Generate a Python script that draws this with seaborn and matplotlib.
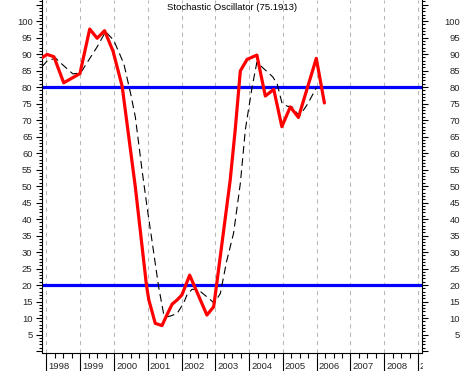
import matplotlib
matplotlib.use("Agg")
import matplotlib.pyplot as plt
import matplotlib.ticker as mticker
from matplotlib.transforms import Bbox, ScaledTranslation
import seaborn as sns
import pandas as pd
import numpy as np

# ---- data ----
k_dates = [1997.867, 1998.02, 1998.22, 1998.51, 1998.99, 1999.28, 1999.50, 1999.72,
           1999.97, 2000.24, 2000.63, 2000.96, 2001.03, 2001.10, 2001.22, 2001.42,
           2001.54, 2001.72, 2001.87, 2002.01, 2002.24, 2002.75, 2002.95, 2003.03,
           2003.44, 2003.59, 2003.74, 2003.94, 2004.23, 2004.48, 2004.73, 2004.97,
           2005.22, 2005.46, 2005.99, 2006.23]
k_values = [88.9, 89.9, 89.2, 81.3, 84.1, 97.6, 94.8, 97.1,
            90.9, 80.3, 49.8, 20.0, 15.5, 12.9, 8.4, 7.7,
            10.4, 14.2, 15.5, 17.0, 23.0, 10.9, 13.4, 19.5,
            51.8, 67.2, 84.9, 88.4, 89.7, 77.3, 79.3, 68.0,
            74.0, 70.8, 88.7, 75.19]

d_dates = [1997.867, 1998.02, 1998.27, 1998.41, 1998.78, 1999.01, 1999.50, 1999.75,
           1999.99, 2000.29, 2000.49, 2000.63, 2000.83, 2000.98, 2001.13, 2001.32,
           2001.47, 2001.57, 2001.67, 2001.87, 2002.06, 2002.16, 2002.31, 2002.48,
           2002.80, 2002.97, 2003.15, 2003.33, 2003.54, 2003.74, 2003.89, 2004.09,
           2004.23, 2004.70, 2004.83, 2004.97, 2005.13, 2005.27, 2005.49, 2005.74,
           2005.99]
d_values = [86.2, 87.9, 88.8, 87.4, 84.0, 84.3, 92.2, 96.8,
            94.2, 87.1, 78.1, 71.0, 54.8, 43.5, 33.0, 19.5,
            11.2, 10.4, 10.6, 11.4, 14.5, 17.0, 18.7, 18.7,
            16.0, 14.5, 17.5, 27.0, 35.7, 50.8, 67.2, 80.1,
            87.5, 83.1, 81.0, 75.3, 74.2, 74.0, 71.2, 75.0,
            79.8]

years = list(range(1998, 2010))
year_labels = [str(y) for y in years]
levels = [80, 20]
y_ticks = list(range(0, 106, 5))
title = "Stochastic Oscillator (75.1913)"

# ---- style ----
sns.set_theme(style="white")
plt.rcParams["font.family"] = ["Liberation Sans", "DejaVu Sans"]
FS = 6.8

fig = plt.figure(figsize=(4.62, 3.71), dpi=100)
W, H = 462, 371
ax = fig.add_axes([42 / W, (H - 353) / H, 380 / W, 353 / H])
ax.set_facecolor("white")

XMIN, XMAX = 1997.867, 2009.12
YMIN, YMAX = -0.6, 106.4

# vertical dashed year gridlines
for yv in years:
    ax.axvline(yv, color="#b8b8b8", lw=0.75, ls=(0, (4, 4)), zorder=1)

# horizontal signal lines
for lv in levels:
    ax.axhline(lv, color="#0000ff", lw=2.3, zorder=2)

dfk = pd.DataFrame({"t": k_dates, "v": k_values})
dfd = pd.DataFrame({"t": d_dates, "v": d_values})
sns.lineplot(data=dfd, x="t", y="v", ax=ax, sort=False, color="black",
             lw=0.8, dashes=False, zorder=3)
ax.lines[-1].set_dashes((7, 4))
sns.lineplot(data=dfk, x="t", y="v", ax=ax, sort=False, color="#ff0000",
             lw=2.3, zorder=4)

ax.set_xlim(XMIN, XMAX)
ax.set_ylim(YMIN, YMAX)
ax.set_xlabel("")
ax.set_ylabel("")

for s in ["top", "right"]:
    ax.spines[s].set_visible(False)
for s in ["left", "bottom"]:
    ax.spines[s].set_color("black")
    ax.spines[s].set_linewidth(0.8)

# x ticks
ax.xaxis.set_major_locator(mticker.FixedLocator(years))
ax.xaxis.set_major_formatter(mticker.FixedFormatter(year_labels))
ax.xaxis.set_minor_locator(mticker.FixedLocator(
    [y + q for y in range(1997, 2010) for q in (0.25, 0.5, 0.75)]))
ax.tick_params(axis="x", which="major", bottom=True, direction="out",
               length=13, width=0.8, color="black", labelsize=FS, pad=-6.6)
ax.tick_params(axis="x", which="minor", bottom=True, direction="out",
               length=3.6, width=0.8, color="black")
off = ScaledTranslation(2 / 100, 0, fig.dpi_scale_trans)
for t in ax.xaxis.get_major_ticks():
    t.label1.set_horizontalalignment("left")
    t.label1.set_transform(t.label1.get_transform() + off)
last = ax.xaxis.get_major_ticks()[-1]
last.label1.set_clip_box(Bbox.from_extents(0, 0, 423, 371))
last.label1.set_clip_on(True)

# left y ticks
def ylab(v, pos):
    return "" if v in (0, 105) else f"{int(v)}"

ax.yaxis.set_major_locator(mticker.FixedLocator(y_ticks))
ax.yaxis.set_major_formatter(mticker.FuncFormatter(ylab))
ax.yaxis.set_minor_locator(mticker.MultipleLocator(1))
ax.tick_params(axis="y", which="major", left=True, direction="out",
               length=4, width=0.8, color="black", labelsize=FS, pad=2.8)
ax.tick_params(axis="y", which="minor", left=True, direction="out",
               length=2, width=0.8, color="black")

# right y axis
ax2 = ax.twinx()
ax2.set_ylim(YMIN, YMAX)
ax2.yaxis.set_major_locator(mticker.FixedLocator(y_ticks))
ax2.yaxis.set_major_formatter(mticker.FuncFormatter(ylab))
ax2.yaxis.set_minor_locator(mticker.MultipleLocator(1))
ax2.tick_params(axis="y", which="major", right=True, direction="out",
                length=4.3, width=0.8, color="black", labelsize=FS, pad=23)
ax2.tick_params(axis="y", which="minor", right=True, direction="out",
                length=2.2, width=0.8, color="black")
for t in ax2.yaxis.get_major_ticks():
    t.label2.set_horizontalalignment("right")
for s in ["top", "left", "bottom"]:
    ax2.spines[s].set_visible(False)
ax2.spines["right"].set_color("black")
ax2.spines["right"].set_linewidth(0.8)

ax.text(0.5, 1 - 8 / 353, title, transform=ax.transAxes, ha="center",
        va="center", fontsize=FS, color="black", zorder=6)

fig.savefig("out.png", dpi=100)
